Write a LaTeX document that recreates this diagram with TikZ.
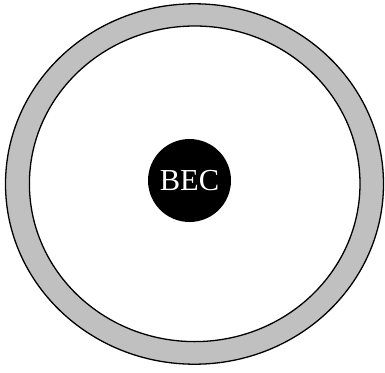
\documentclass[tikz,border=0pt]{standalone}
\usepackage{fontspec}
\setmainfont{Liberation Serif}
\begin{document}
\begin{tikzpicture}[x=1pt,y=-1pt,
  ring/.style={draw=black,line width=1.3pt},
  core/.style={circle,fill=black,minimum size=83pt,inner sep=0pt,text=white,font=\fontsize{30.5}{32}\selectfont}]
\useasboundingbox (0,0) rectangle (385,372);
\filldraw[ring,fill={rgb,255:red,192;green,192;blue,192}] (194.5,184) ellipse [x radius=189,y radius=180.2];
\filldraw[ring,fill=white] (194.7,183.8) ellipse [x radius=165.3,y radius=157.8];
\node[core] (bec) at (189.5,180.5) {BEC};
\end{tikzpicture}
\end{document}
